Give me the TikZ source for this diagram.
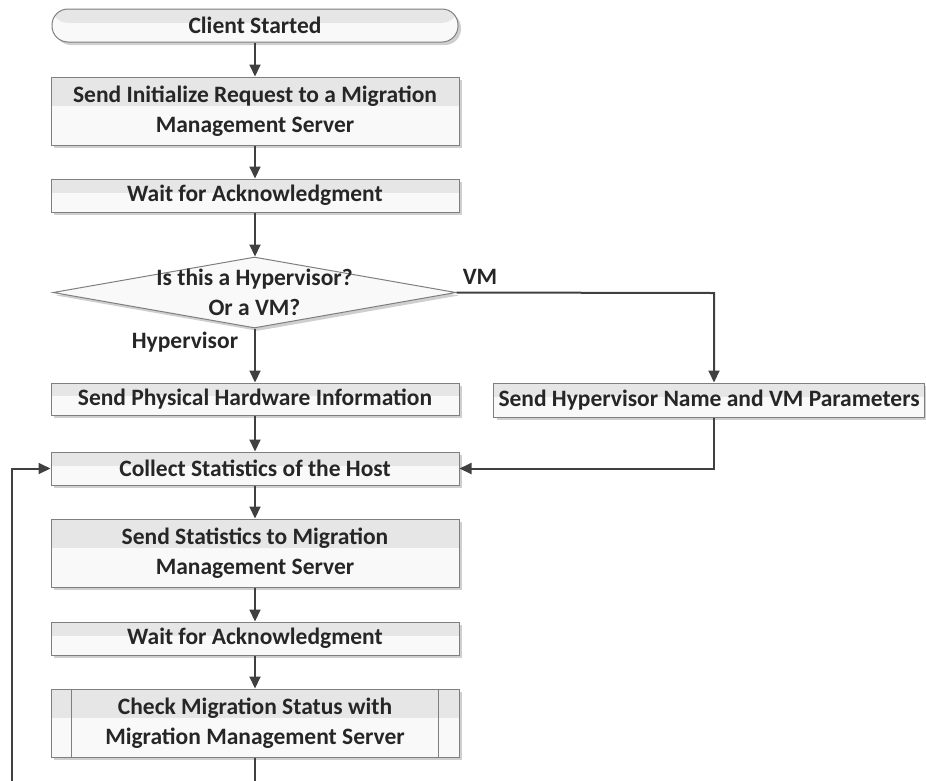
\documentclass[tikz,border=0pt]{standalone}
\usepackage{fontspec}
\setmainfont{Carlito}
\usetikzlibrary{arrows.meta,shapes.geometric,shadows,calc}

\definecolor{edgegray}{HTML}{7F7F7F}
\definecolor{flowgray}{HTML}{404040}
\definecolor{bandgray}{HTML}{E6E6E6}
\definecolor{paper}{HTML}{F9F9F9}
\definecolor{shadowgray}{HTML}{CFCFCF}

\tikzset{
  x=1pt, y=-1pt,
  txt/.style={font=\bfseries\fontsize{23.5}{30}\selectfont, text=black!85},
  boxshadow/.style={drop shadow={shadow xshift=3pt, shadow yshift=-3pt, fill=shadowgray, opacity=1}},
  procbox/.style={txt, draw=edgegray, line width=1pt, rectangle, fill=paper,
    align=center, inner sep=0pt, minimum width=408pt, boxshadow,
    path picture={\fill[bandgray] (path picture bounding box.north west) rectangle
      ($(path picture bounding box.north east)!0.42!(path picture bounding box.south east)$);}},
  termbox/.style={procbox, rounded corners=16pt, minimum width=406pt, minimum height=33pt},
  decbox/.style={diamond, draw=edgegray, line width=1pt, fill=paper, inner sep=0pt,
    minimum width=403pt, minimum height=71pt, boxshadow},
  flow/.style={draw=flowgray, line width=2pt, -{Triangle[length=12pt,width=11pt]}},
}

\begin{document}
\begin{tikzpicture}
\useasboundingbox (0,0) rectangle (926,780);

% main column
\node[termbox] (start) at (255,25.5) {Client Started};
\node[procbox, minimum height=68pt] (init) at (255,111) {Send Initialize Request to a Migration\\Management Server};
\node[procbox, minimum height=33pt] (wait1) at (255,195.5) {Wait for Acknowledgment};
\node[decbox] (dec) at (254.5,292.5) {};
\node[txt, align=center] (dectext) at (254.5,292) {Is this a Hypervisor?\\Or a VM?};
\node[procbox, minimum height=32pt] (phys) at (255,399) {Send Physical Hardware Information};
\node[procbox, minimum width=0pt, minimum height=34pt, inner xsep=5pt, anchor=west] (hv) at (493,400) {Send Hypervisor Name and VM Parameters};
\node[procbox, minimum height=33pt] (collect) at (255,468.5) {Collect Statistics of the Host};
\node[procbox, minimum height=68pt] (sendstat) at (255,553) {Send Statistics to Migration\\Management Server};
\node[procbox, minimum height=33pt] (wait2) at (255,638.5) {Wait for Acknowledgment};
\node[procbox, minimum height=68pt] (check) at (255,723) {Check Migration Status with\\Migration Management Server};
% predefined-process side bars
\draw[edgegray, line width=1pt] ($(check.north west)+(21,0)$) -- ($(check.south west)+(21,0)$);
\draw[edgegray, line width=1pt] ($(check.north east)+(-21,0)$) -- ($(check.south east)+(-21,0)$);

% branch labels
\node[txt] (vmlab) at (480,277) {VM};
\node[txt] (hyplab) at (185,342) {Hypervisor};

% connectors
\coordinate (vmcorner) at (714,293);
\draw[flow] (start) -- (init);
\draw[flow] (init) -- (wait1);
\draw[flow] (wait1) -- (wait1 |- dec.north);
\draw[flow] (phys |- dec.south) -- (phys);
\draw[flow] (dec.east) -- (vmcorner) -- (vmcorner |- hv.north);
\draw[flow] (phys) -- (collect);
\draw[flow] (hv.south -| vmcorner) |- (collect.east);
\draw[flow] (collect) -- (sendstat);
\draw[flow] (sendstat) -- (wait2);
\draw[flow] (wait2) -- (check);
\coordinate (loopc) at (12,800);
\draw[flow] (check.south) -- (check.south |- loopc) -- (loopc) |- (collect.west);
\end{tikzpicture}
\end{document}
